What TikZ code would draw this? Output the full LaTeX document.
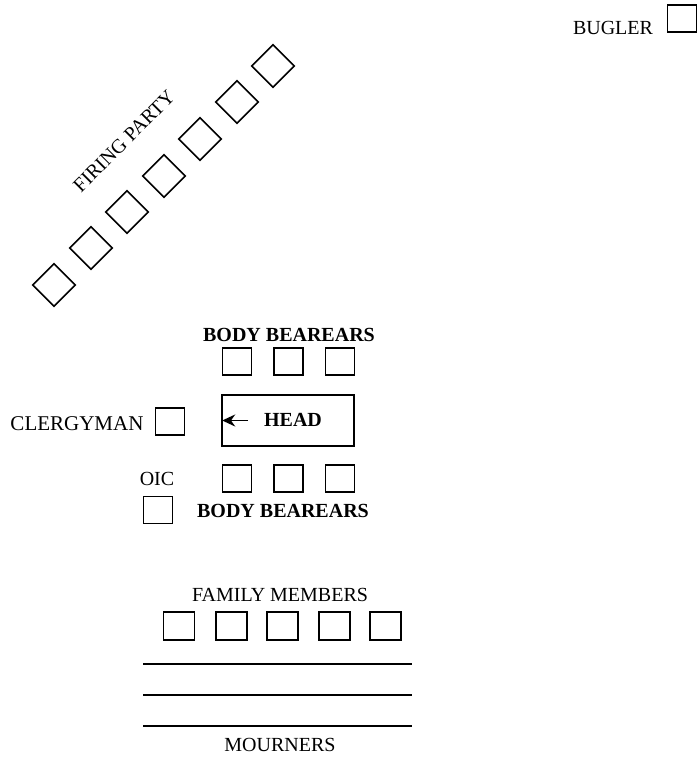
\documentclass[tikz,border=0pt]{standalone}
\usepackage{fontspec}
\setmainfont{Liberation Serif}
\usetikzlibrary{positioning,arrows.meta}
\begin{document}
\begin{tikzpicture}[
  x=1pt, y=-1pt,
  seat/.style={draw=black, line width=1.6pt, minimum width=29pt, minimum height=27pt, inner sep=0pt},
  label/.style={font=\fontsize{20}{24}\selectfont, text=black, inner sep=0pt},
  boldlabel/.style={label, font=\fontsize{20}{24}\selectfont\bfseries},
  row/.style={line width=2pt, black},
]
\useasboundingbox (0,0) rectangle (699,759);

% --- Bugler ---
\node[seat] (bugler) at (682,18.5) {};
\node[label] (buglertxt) at (613,28) {BUGLER};

% --- Firing party ---
\foreach \i/\x/\y in {1/54/285, 2/91/248, 3/127/212, 4/164/176, 5/200/139, 6/237/102, 7/273/66}{
  \node[seat, minimum width=30pt, minimum height=30pt, rotate=45] (fp\i) at (\x,\y) {};
}
\node[label, rotate=45] (firing) at (124,141) {FIRING PARTY};

% --- Body bearers (head side) ---
\node[boldlabel] (tbtxt) at (289,334.5) {BODY BEAREARS};
\foreach \i/\x in {1/237, 2/288.5, 3/340}{
  \node[seat] (tb\i) at (\x,361.5) {};
}

% --- Casket ---
\node[draw=black, line width=1.6pt, minimum width=132pt, minimum height=51pt] (casket) at (288,420.5) {};
\node[boldlabel] (headtxt) at (293,420) {HEAD};
\draw[-{Stealth[length=13pt,width=12pt]}, line width=1.8pt] ([xshift=27pt]casket.west) -- ([xshift=1pt]casket.west);

% --- Clergyman ---
\node[seat] (clergy) at (170,421.5) {};
\node[label, font=\fontsize{21}{24}\selectfont, left=11pt of clergy, yshift=-2pt] (clergytxt) {CLERGYMAN};

% --- Body bearers (foot side) ---
\foreach \i/\x in {1/237, 2/288.5, 3/340}{
  \node[seat] (bb\i) at (\x,478.5) {};
}
\node[boldlabel] (bbtxt) at (283,511) {BODY BEAREARS};

% --- OIC ---
\node[label] (oictxt) at (157,479) {OIC};
\node[seat] (oic) at (158,510) {};

% --- Family members ---
\node[label] (fmtxt) at (280,595) {FAMILY MEMBERS};
\foreach \i/\x in {1/179, 2/231.5, 3/282.5, 4/334.5, 5/385.5}{
  \node[seat, minimum width=31pt, minimum height=28pt] (fm\i) at (\x,626) {};
}

% --- Mourners ---
\foreach \y in {664, 695, 726}{
  \draw[row] (143,\y) -- (412,\y);
}
\node[label] (mourntxt) at (280,745) {MOURNERS};

\end{tikzpicture}
\end{document}
